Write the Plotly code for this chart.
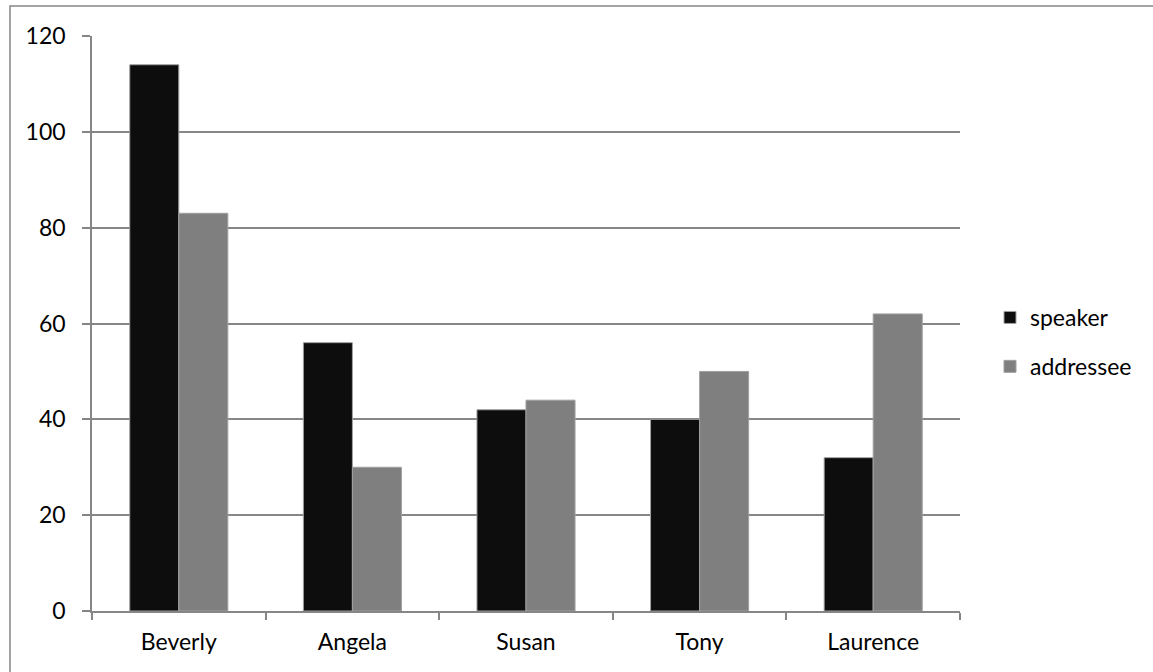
import plotly.graph_objects as go

categories = ["Beverly", "Angela", "Susan", "Tony", "Laurence"]
speaker = [114, 56, 42, 40, 32]
addressee = [83, 30, 44, 50, 62]
y_ticks = [0, 20, 40, 60, 80, 100, 120]

FONT = "Lato"
GRID = "#868686"

fig = go.Figure()
fig.add_trace(go.Bar(name="speaker", x=categories, y=speaker,
                     marker=dict(color="#0d0d0d", line=dict(color="#a0a0a0", width=1)),
                     legendgroup="a"))
fig.add_trace(go.Bar(name="addressee", x=categories, y=addressee,
                     marker=dict(color="#7f7f7f", line=dict(color="#a0a0a0", width=1)),
                     legendgroup="b"))

W, H = 1153, 672
L, R, T, B = 92, 193, 36, 61
pw, ph = W - L - R, H - T - B

def px_x(p):
    return (p - L) / pw

def px_y(p):
    return (H - B - p) / ph

fig.update_layout(
    width=W, height=H,
    margin=dict(l=L, r=R, t=T, b=B, autoexpand=False),
    paper_bgcolor="white", plot_bgcolor="white",
    font=dict(family=FONT, size=23, color="#000000"),
    barmode="group", bargap=0.435, bargroupgap=0,
    showlegend=True,
    legend=dict(x=px_x(990), y=px_y(342), xanchor="left", yanchor="middle",
                traceorder="grouped", tracegroupgap=16,
                font=dict(family=FONT, size=23, color="#000000"),
                bgcolor="rgba(0,0,0,0)"),
    xaxis=dict(showline=True, linecolor=GRID, linewidth=1.5,
               ticks="outside", tickson="boundaries", ticklen=7,
               tickcolor=GRID, tickwidth=1.5, showgrid=False,
               ticklabelstandoff=10,
               tickfont=dict(family=FONT, size=23)),
    yaxis=dict(range=[0, 120], tickvals=y_ticks, showline=True,
               linecolor=GRID, linewidth=1.5, ticks="outside", ticklen=8,
               tickcolor=GRID, tickwidth=1.5, showgrid=True,
               gridcolor=GRID, gridwidth=1.5, zeroline=False,
               ticklabelstandoff=12, tickfont=dict(family=FONT, size=23)),
    shapes=[dict(type="rect", xref="paper", yref="paper",
                 x0=px_x(10), x1=px_x(1170), y0=px_y(690), y1=px_y(6),
                 line=dict(color=GRID, width=1.5), fillcolor="rgba(0,0,0,0)",
                 layer="below")],
)

fig.write_html(
    "out.html",
    config={"displayModeBar": False},
    post_script="document.body.style.margin='0';document.body.style.overflow='hidden';",
)
